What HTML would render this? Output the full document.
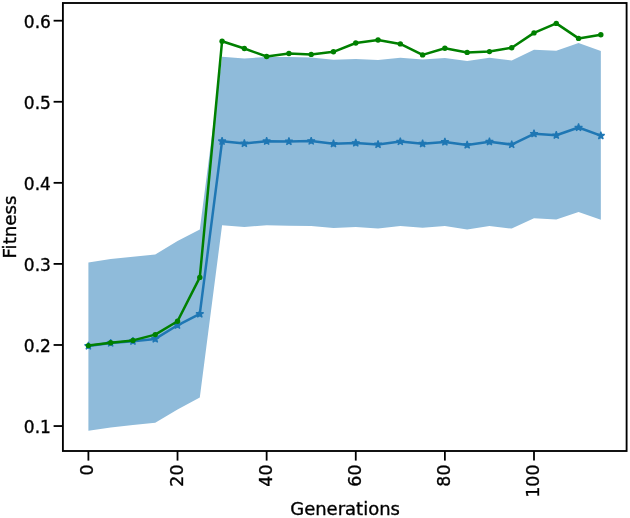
<!DOCTYPE html>
<html lang="en"><head><meta charset="utf-8"><title>Fitness vs Generations</title>
<style>
html,body{margin:0;padding:0;background:#fff;}
body{width:630px;height:518px;overflow:hidden;}
svg{display:block;}
text{font-family:"DejaVu Sans","Liberation Sans",sans-serif;fill:#000;stroke:#000;stroke-width:0.35px;}
.tk{font-size:17.0px;}
.lb{font-size:18.0px;}
.tx{font-size:17.4px;}
</style></head><body>
<svg width="630" height="518" viewBox="0 0 630 518">
<rect x="0" y="0" width="630" height="518" fill="#ffffff"/>

<polygon points="88.40,262.40 110.68,258.90 132.96,256.70 155.24,254.50 177.52,241.00 199.80,229.60 222.08,56.70 244.36,58.60 266.64,56.90 288.92,56.90 311.20,57.60 333.48,59.80 355.76,58.90 378.04,59.90 400.32,57.80 422.60,59.40 444.88,58.00 467.16,61.00 489.44,57.70 511.72,60.50 534.00,49.80 556.28,50.70 578.56,43.00 600.84,51.10 600.84,219.70 578.56,212.10 556.28,219.50 534.00,218.20 511.72,228.60 489.44,226.10 467.16,229.50 444.88,226.05 422.60,227.70 400.32,225.90 378.04,228.50 355.76,227.10 333.48,228.00 311.20,225.90 288.92,225.80 266.64,225.20 244.36,227.10 222.08,225.30 199.80,397.40 177.52,409.50 155.24,422.80 132.96,425.00 110.68,427.40 88.40,430.70" fill="#8fbbda"/>
<polyline points="88.40,345.90 110.68,343.10 132.96,341.20 155.24,338.90 177.52,325.30 199.80,313.90 222.08,141.20 244.36,143.40 266.64,141.20 288.92,141.40 311.20,141.10 333.48,143.80 355.76,143.00 378.04,144.40 400.32,141.60 422.60,143.70 444.88,141.90 467.16,145.00 489.44,141.70 511.72,144.60 534.00,133.80 556.28,135.30 578.56,127.50 600.84,135.70" fill="none" stroke="#1f77b4" stroke-width="2.5" stroke-linejoin="round" stroke-linecap="butt"/>
<g fill="#1f77b4" stroke="#1f77b4" stroke-width="1.2" stroke-linejoin="bevel">
<polygon points="88.40,341.90 89.30,344.66 92.20,344.66 89.85,346.37 90.75,349.14 88.40,347.43 86.05,349.14 86.95,346.37 84.60,344.66 87.50,344.66"/>
<polygon points="110.68,339.10 111.58,341.86 114.48,341.86 112.13,343.57 113.03,346.34 110.68,344.63 108.33,346.34 109.23,343.57 106.88,341.86 109.78,341.86"/>
<polygon points="132.96,337.20 133.86,339.96 136.76,339.96 134.41,341.67 135.31,344.44 132.96,342.73 130.61,344.44 131.51,341.67 129.16,339.96 132.06,339.96"/>
<polygon points="155.24,334.90 156.14,337.66 159.04,337.66 156.69,339.37 157.59,342.14 155.24,340.43 152.89,342.14 153.79,339.37 151.44,337.66 154.34,337.66"/>
<polygon points="177.52,321.30 178.42,324.06 181.32,324.06 178.97,325.77 179.87,328.54 177.52,326.83 175.17,328.54 176.07,325.77 173.72,324.06 176.62,324.06"/>
<polygon points="199.80,309.90 200.70,312.66 203.60,312.66 201.25,314.37 202.15,317.14 199.80,315.43 197.45,317.14 198.35,314.37 196.00,312.66 198.90,312.66"/>
<polygon points="222.08,137.20 222.98,139.96 225.88,139.96 223.53,141.67 224.43,144.44 222.08,142.73 219.73,144.44 220.63,141.67 218.28,139.96 221.18,139.96"/>
<polygon points="244.36,139.40 245.26,142.16 248.16,142.16 245.81,143.87 246.71,146.64 244.36,144.93 242.01,146.64 242.91,143.87 240.56,142.16 243.46,142.16"/>
<polygon points="266.64,137.20 267.54,139.96 270.44,139.96 268.09,141.67 268.99,144.44 266.64,142.73 264.29,144.44 265.19,141.67 262.84,139.96 265.74,139.96"/>
<polygon points="288.92,137.40 289.82,140.16 292.72,140.16 290.37,141.87 291.27,144.64 288.92,142.93 286.57,144.64 287.47,141.87 285.12,140.16 288.02,140.16"/>
<polygon points="311.20,137.10 312.10,139.86 315.00,139.86 312.65,141.57 313.55,144.34 311.20,142.63 308.85,144.34 309.75,141.57 307.40,139.86 310.30,139.86"/>
<polygon points="333.48,139.80 334.38,142.56 337.28,142.56 334.93,144.27 335.83,147.04 333.48,145.33 331.13,147.04 332.03,144.27 329.68,142.56 332.58,142.56"/>
<polygon points="355.76,139.00 356.66,141.76 359.56,141.76 357.21,143.47 358.11,146.24 355.76,144.53 353.41,146.24 354.31,143.47 351.96,141.76 354.86,141.76"/>
<polygon points="378.04,140.40 378.94,143.16 381.84,143.16 379.49,144.87 380.39,147.64 378.04,145.93 375.69,147.64 376.59,144.87 374.24,143.16 377.14,143.16"/>
<polygon points="400.32,137.60 401.22,140.36 404.12,140.36 401.77,142.07 402.67,144.84 400.32,143.13 397.97,144.84 398.87,142.07 396.52,140.36 399.42,140.36"/>
<polygon points="422.60,139.70 423.50,142.46 426.40,142.46 424.05,144.17 424.95,146.94 422.60,145.23 420.25,146.94 421.15,144.17 418.80,142.46 421.70,142.46"/>
<polygon points="444.88,137.90 445.78,140.66 448.68,140.66 446.33,142.37 447.23,145.14 444.88,143.43 442.53,145.14 443.43,142.37 441.08,140.66 443.98,140.66"/>
<polygon points="467.16,141.00 468.06,143.76 470.96,143.76 468.61,145.47 469.51,148.24 467.16,146.53 464.81,148.24 465.71,145.47 463.36,143.76 466.26,143.76"/>
<polygon points="489.44,137.70 490.34,140.46 493.24,140.46 490.89,142.17 491.79,144.94 489.44,143.23 487.09,144.94 487.99,142.17 485.64,140.46 488.54,140.46"/>
<polygon points="511.72,140.60 512.62,143.36 515.52,143.36 513.17,145.07 514.07,147.84 511.72,146.13 509.37,147.84 510.27,145.07 507.92,143.36 510.82,143.36"/>
<polygon points="534.00,129.80 534.90,132.56 537.80,132.56 535.45,134.27 536.35,137.04 534.00,135.33 531.65,137.04 532.55,134.27 530.20,132.56 533.10,132.56"/>
<polygon points="556.28,131.30 557.18,134.06 560.08,134.06 557.73,135.77 558.63,138.54 556.28,136.83 553.93,138.54 554.83,135.77 552.48,134.06 555.38,134.06"/>
<polygon points="578.56,123.50 579.46,126.26 582.36,126.26 580.01,127.97 580.91,130.74 578.56,129.03 576.21,130.74 577.11,127.97 574.76,126.26 577.66,126.26"/>
<polygon points="600.84,131.70 601.74,134.46 604.64,134.46 602.29,136.17 603.19,138.94 600.84,137.23 598.49,138.94 599.39,136.17 597.04,134.46 599.94,134.46"/>
</g>
<polyline points="88.40,345.60 110.68,342.80 132.96,340.40 155.24,334.60 177.52,321.20 199.80,277.40 222.08,41.20 244.36,48.55 266.64,56.50 288.92,53.50 311.20,54.40 333.48,51.80 355.76,43.00 378.04,40.00 400.32,43.90 422.60,54.90 444.88,48.30 467.16,52.40 489.44,51.60 511.72,47.80 534.00,32.90 556.28,23.40 578.56,38.40 600.84,34.70" fill="none" stroke="#008000" stroke-width="2.5" stroke-linejoin="round" stroke-linecap="butt"/>
<g fill="#008000">
<circle cx="88.40" cy="345.60" r="2.7"/>
<circle cx="110.68" cy="342.80" r="2.7"/>
<circle cx="132.96" cy="340.40" r="2.7"/>
<circle cx="155.24" cy="334.60" r="2.7"/>
<circle cx="177.52" cy="321.20" r="2.7"/>
<circle cx="199.80" cy="277.40" r="2.7"/>
<circle cx="222.08" cy="41.20" r="2.7"/>
<circle cx="244.36" cy="48.55" r="2.7"/>
<circle cx="266.64" cy="56.50" r="2.7"/>
<circle cx="288.92" cy="53.50" r="2.7"/>
<circle cx="311.20" cy="54.40" r="2.7"/>
<circle cx="333.48" cy="51.80" r="2.7"/>
<circle cx="355.76" cy="43.00" r="2.7"/>
<circle cx="378.04" cy="40.00" r="2.7"/>
<circle cx="400.32" cy="43.90" r="2.7"/>
<circle cx="422.60" cy="54.90" r="2.7"/>
<circle cx="444.88" cy="48.30" r="2.7"/>
<circle cx="467.16" cy="52.40" r="2.7"/>
<circle cx="489.44" cy="51.60" r="2.7"/>
<circle cx="511.72" cy="47.80" r="2.7"/>
<circle cx="534.00" cy="32.90" r="2.7"/>
<circle cx="556.28" cy="23.40" r="2.7"/>
<circle cx="578.56" cy="38.40" r="2.7"/>
<circle cx="600.84" cy="34.70" r="2.7"/>
</g>
<rect x="62.9" y="3.0" width="563.7" height="448.0" fill="none" stroke="#000" stroke-width="1.85"/>
<g stroke="#000" stroke-width="1.8">
<line x1="88.40" y1="451.00" x2="88.40" y2="460.60"/>
<line x1="177.52" y1="451.00" x2="177.52" y2="460.60"/>
<line x1="266.64" y1="451.00" x2="266.64" y2="460.60"/>
<line x1="355.76" y1="451.00" x2="355.76" y2="460.60"/>
<line x1="444.88" y1="451.00" x2="444.88" y2="460.60"/>
<line x1="534.00" y1="451.00" x2="534.00" y2="460.60"/>
<line x1="62.90" y1="426.05" x2="53.60" y2="426.05"/>
<line x1="62.90" y1="344.98" x2="53.60" y2="344.98"/>
<line x1="62.90" y1="263.91" x2="53.60" y2="263.91"/>
<line x1="62.90" y1="182.84" x2="53.60" y2="182.84"/>
<line x1="62.90" y1="101.77" x2="53.60" y2="101.77"/>
<line x1="62.90" y1="20.70" x2="53.60" y2="20.70"/>
</g>
<text class="tk" x="50.9" y="433.35" text-anchor="end">0.1</text>
<text class="tk" x="50.9" y="352.28" text-anchor="end">0.2</text>
<text class="tk" x="50.9" y="271.21" text-anchor="end">0.3</text>
<text class="tk" x="50.9" y="190.14" text-anchor="end">0.4</text>
<text class="tk" x="50.9" y="109.07" text-anchor="end">0.5</text>
<text class="tk" x="50.9" y="28.00" text-anchor="end">0.6</text>
<text class="tx" transform="translate(93.40,464.5) rotate(-90)" text-anchor="end">0</text>
<text class="tx" transform="translate(182.52,464.5) rotate(-90)" text-anchor="end">20</text>
<text class="tx" transform="translate(271.64,464.5) rotate(-90)" text-anchor="end">40</text>
<text class="tx" transform="translate(360.76,464.5) rotate(-90)" text-anchor="end">60</text>
<text class="tx" transform="translate(449.88,464.5) rotate(-90)" text-anchor="end">80</text>
<text class="tx" transform="translate(539.00,464.5) rotate(-90)" text-anchor="end">100</text>
<text class="lb" x="345.1" y="515.0" text-anchor="middle">Generations</text>
<text class="lb" style="font-size:17.55px" transform="translate(16.4,227.0) rotate(-90) scale(1.04,1)" text-anchor="middle">Fitness</text>
</svg>
</body></html>
